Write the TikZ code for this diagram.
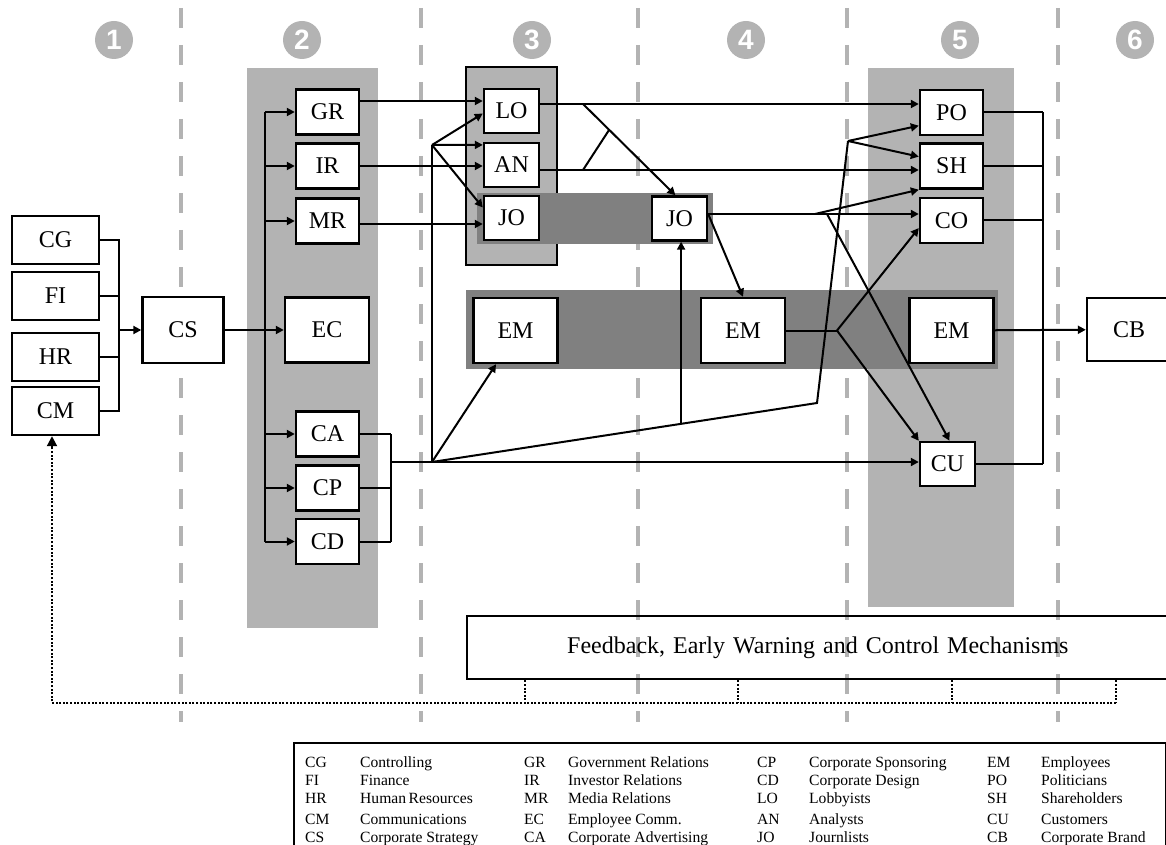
\documentclass[tikz,border=0pt]{standalone}
\usepackage{fontspec}
\setmainfont{Liberation Serif}
\setsansfont{Liberation Sans}
\usetikzlibrary{arrows.meta,positioning,calc}
\definecolor{Panel}{HTML}{B3B3B3}
\definecolor{Band}{HTML}{808080}
\tikzset{
 unit/.style={draw=black,fill=white,line width=1.2pt,inner sep=0pt,font=\fontsize{12}{14}\selectfont},
 lbox/.style={unit,minimum width=43.5pt,minimum height=24pt},
 sbox/.style={unit,minimum width=31.5pt,minimum height=22.5pt},
 tbox/.style={unit,minimum width=27.5pt,minimum height=22pt},
 bbox/.style={unit,minimum width=42pt,minimum height=32.5pt},
 numdot/.style={circle,fill=Panel,text=white,inner sep=0pt,minimum size=19pt,font=\sffamily\bfseries\fontsize{14}{14}\selectfont},
 phase/.style={draw=Panel,line width=2.2pt,dash pattern=on 10pt off 8.5pt},
 wire/.style={line width=1pt,draw=black},
 arr/.style={wire,-{Triangle[length=4pt,width=4pt]}},
 dots/.style={line width=1pt,dash pattern=on 1pt off 0.8pt}
}
\begin{document}
\begin{tikzpicture}[x=0.5pt,y=-0.5pt]
\useasboundingbox (0,0) rectangle (1166,845);
\foreach \x in {181,421,638,847,1058}
 \draw[phase] (\x,8) -- (\x,722);
\foreach \x/\n in {114/1,302/2,532/3,746/4,960/5,1135/6}
 \node[numdot] (n\n) at (\x,40) {\n};
\fill[Panel] (247,68) rectangle (378,628);
\fill[Panel] (868,68) rectangle (1014,607);
\draw[line width=1.2pt,fill=Panel] (466,67) rectangle (557,265);
\fill[Band] (477,193) rectangle (713,244);
\fill[Band] (466,290) rectangle (998,369);
\foreach \n/\y in {CG/240,FI/296,HR/357,CM/411}
 \node[lbox] (\n) at (55.5,\y) {\n};
\node[unit,minimum width=40.5pt,minimum height=33pt] (CS) at (183,330) {CS};
\foreach \n/\y in {GR/112,IR/166,MR/221,CA/434,CP/488,CD/541.5}
 \node[sbox] (\n) at (327.5,\y) {\n};
\node[bbox] (EC) at (327,330) {EC};
\node[tbox] (LO) at (511.5,111) {LO};
\node[tbox] (AN) at (511.5,165) {AN};
\node[tbox] (JOa) at (511.5,218) {JO};
\node[tbox] (JOb) at (679.5,218.5) {JO};
\node[bbox] (EMa) at (515.5,330.5) {EM};
\node[bbox] (EMb) at (743,330.5) {EM};
\node[bbox] (EMc) at (951.5,330.5) {EM};
\node[bbox,minimum height=31.5pt] (CB) at (1129,329.5) {CB};
\foreach \n/\y in {PO/112.5,SH/166,CO/220.5}
 \node[sbox] (\n) at (951.5,\y) {\n};
\node[tbox] (CU) at (947.5,464) {CU};
\node[draw,line width=1.2pt,anchor=north west,inner xsep=50pt,inner ysep=0pt,text width=267pt,minimum height=31.5pt,align=left,font=\fontsize{12}{14}\selectfont] (fb) at (466,615) {Feedback, Early Warning and Control Mechanisms};
\node[draw,line width=1.2pt,anchor=north west,inner xsep=5.5pt,inner ysep=5.7pt,font=\fontsize{7.8}{9}\selectfont] (legend) at (293,742) {%
 \begin{tabular}{@{}p{27.5pt}@{}p{82pt}@{}p{22pt}@{}p{94.5pt}@{}p{26pt}@{}p{89pt}@{}p{27pt}@{}p{57pt}@{}}
 CG & Controlling & GR & Government Relations & CP & Corporate Sponsoring & EM & Employees\\
 FI & Finance & IR & Investor Relations & CD & Corporate Design & PO & Politicians\\
 HR & Human\,Resources & MR & Media Relations & LO & Lobbyists & SH & Shareholders\\[1.5pt]
 CM & Communications & EC & Employee Comm. & AN & Analysts & CU & Customers\\
 CS & Corporate Strategy & CA & Corporate Advertising & JO & Journlists & CB & Corporate Brand
 \end{tabular}};
\coordinate (lbus) at (119,330);
\draw[wire] (CG.east) -| (lbus) |- (CM.east);
\draw[wire] (FI.east) -- (FI.east -| lbus);
\draw[wire] (HR.east) -- (HR.east -| lbus);
\draw[arr] (lbus) -- (CS.west);
\coordinate (cbus) at (265,330);
\draw[arr] (CS.east) -- (EC.west);
\draw[wire] (cbus |- GR) -- (cbus |- CD);
\foreach \n in {GR,IR,MR,CA,CP,CD}
 \draw[arr] (cbus |- \n) -- (\n.west);
\coordinate (abus) at (391,462);
\foreach \n in {CA,CP,CD}
 \draw[wire] (\n.east) -- (\n.east -| abus);
\draw[wire] (abus |- CA) -- (abus |- CD);
\coordinate (hub) at (432,462);
\coordinate (hubtop) at (432,145);
\draw[wire] (abus) -- (hub) -- (hubtop);
\draw[arr] (hubtop) -- (LO.185);
\draw[arr] (hubtop) -- (AN.145);
\draw[arr] (hubtop) -- (JOa.160);
\draw[arr] (hub) -- (EMa.240);
\draw[arr] (hub) -- (hub -| CU.west);
\coordinate (kinkb) at (817,403);
\coordinate (fork) at (848,141);
\coordinate (kink) at ($(hub)!0.647!(kinkb)$);
\draw[wire] (hub) -- (kinkb) -- (fork);
\draw[arr] (kink) -- (kink |- JOb.south);
\draw[arr] (fork) -- (PO.202);
\draw[arr] (fork) -- (SH.164);
\draw[arr] ([yshift=5.5pt]GR.east) -- ([yshift=5.5pt]GR.east -| LO.west);
\draw[arr] (IR.east) -- (IR.east -| AN.west);
\draw[arr] ([yshift=-1.5pt]MR.east) -- ([yshift=-1.5pt]MR.east -| JOa.west);
\coordinate (loout) at ([yshift=3.5pt]LO.east);
\coordinate (anout) at ([yshift=-2.5pt]AN.east);
\draw[arr] (loout) -- (loout -| PO.west);
\draw[arr] (anout) -- (anout -| SH.west);
\coordinate (lojoin) at (583,104);
\coordinate (anjoin) at (583,170);
\draw[arr] (lojoin) -- (JOb.100);
\draw[wire] (anjoin) -- ($(lojoin)!0.283!(JOb.100)$);
\coordinate (joout) at ([yshift=2.25pt]JOb.east);
\draw[arr] (joout) -- (joout -| CO.west);
\draw[arr] (joout) -- (EMb.north);
\coordinate (jofork) at (815,214);
\coordinate (joforkb) at (827,214);
\draw[arr] (jofork) -- (SH.south west);
\draw[arr] (joforkb) -- (CU.85);
\coordinate (emfork) at (837,330.5);
\draw[wire] (EMb.east) -- (emfork);
\draw[arr] (emfork) -- (CO.193);
\draw[arr] (emfork) -- (CU.north west);
\draw[arr] (EMc) -- (CB);
\coordinate (rbus) at (1043,300);
\foreach \n in {PO,SH,CO,CU}
 \draw[wire] (\n.east) -- (\n.east -| rbus);
\draw[wire] (rbus |- PO.east) -- (rbus |- CU.east);
\coordinate (fbend) at (1116,703);
\coordinate (fbcorner) at (52,703);
\draw[dots,-{Triangle[length=5pt,width=5pt]}] (fbend) -- (fbcorner) -- (fbcorner |- CM.south);
\foreach \x in {525,738,952,1116}
 \draw[dots] (\x,0 |- fb.south) -- (\x,703);
\end{tikzpicture}
\end{document}
